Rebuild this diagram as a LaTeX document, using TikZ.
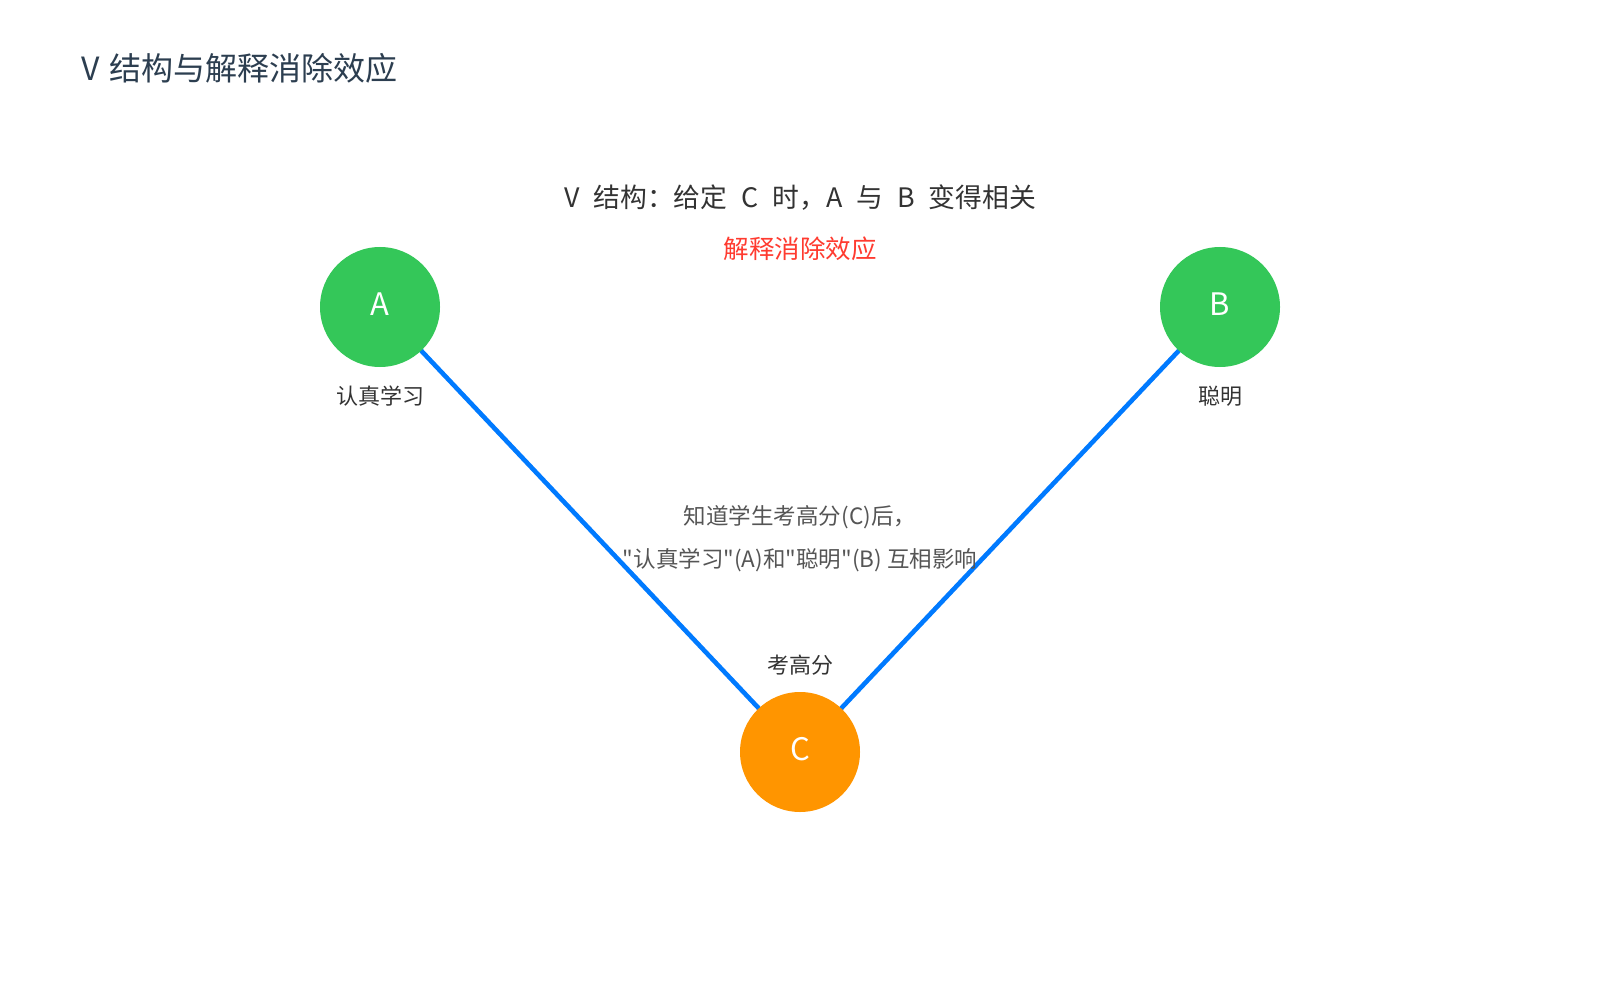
\documentclass[tikz,border=0pt]{standalone}
\usepackage{fontspec}
\setmainfont{Noto Sans CJK SC}[Ligatures=TeXOff]
\definecolor{titlec}{HTML}{2C3E50}
\definecolor{darkt}{HTML}{333333}
\definecolor{midt}{HTML}{555555}
\definecolor{redt}{HTML}{FF3B30}
\definecolor{greenc}{HTML}{34C759}
\definecolor{orangec}{HTML}{FF9500}
\definecolor{bluel}{HTML}{007AFF}
\newcommand{\fs}[1]{\fontsize{#1}{#1}\selectfont}
\newcommand{\wsp}{\hspace{0.52em}}
\newcommand{\up}[1]{\raisebox{3pt}[\height][\depth]{#1}}
\begin{document}
\begin{tikzpicture}[x=1pt,y=-1pt,
  varnode/.style={circle,minimum size=120pt,inner sep=0pt,text=white,font=\fs{31}},
  lab/.style={inner sep=0pt,text=darkt,font=\fs{22}},
  note/.style={inner sep=0pt,text=midt,font=\fs{22.5}},
  edge/.style={draw=bluel,line width=4.6pt}]
\useasboundingbox (0,0) rectangle (1600,1000);
\fill[white] (0,0) rectangle (1600,1000);
\node[anchor=west,inner sep=0pt,text=titlec,font=\fs{32}] (title) at (81,68) {V\hspace{0.32em}结构与解释消除效应};
\node[inner sep=0pt,text=darkt,font=\fs{26.8}] (sub) at (800,198) {V\wsp 结构：给定\wsp C\wsp 时，A\wsp 与\wsp B\wsp 变得相关};
\node[inner sep=0pt,text=redt,font=\fs{25.5}] (ee) at (800,249) {解释消除效应};
\coordinate (Ap) at (380,307);
\coordinate (Bp) at (1220,307);
\coordinate (Cp) at (800,752);
\draw[edge] (Ap) -- (Cp);
\draw[edge] (Bp) -- (Cp);
\node[varnode,fill=greenc] (A) at (Ap) {\up{A}};
\node[varnode,fill=greenc] (B) at (Bp) {\up{B}};
\node[varnode,fill=orangec] (C) at (Cp) {\up{C}};
\node[lab] (la) at (380,396) {认真学习};
\node[lab] (lb) at (1220,396) {聪明};
\node[lab] (lc) at (800,665) {考高分};
\node[note] (n1) at (800,517) {知道学生考高分(C)后，};
\node[note] (n2) at (800,560) {"认真学习"(A)和"聪明"(B) 互相影响};
\end{tikzpicture}
\end{document}
